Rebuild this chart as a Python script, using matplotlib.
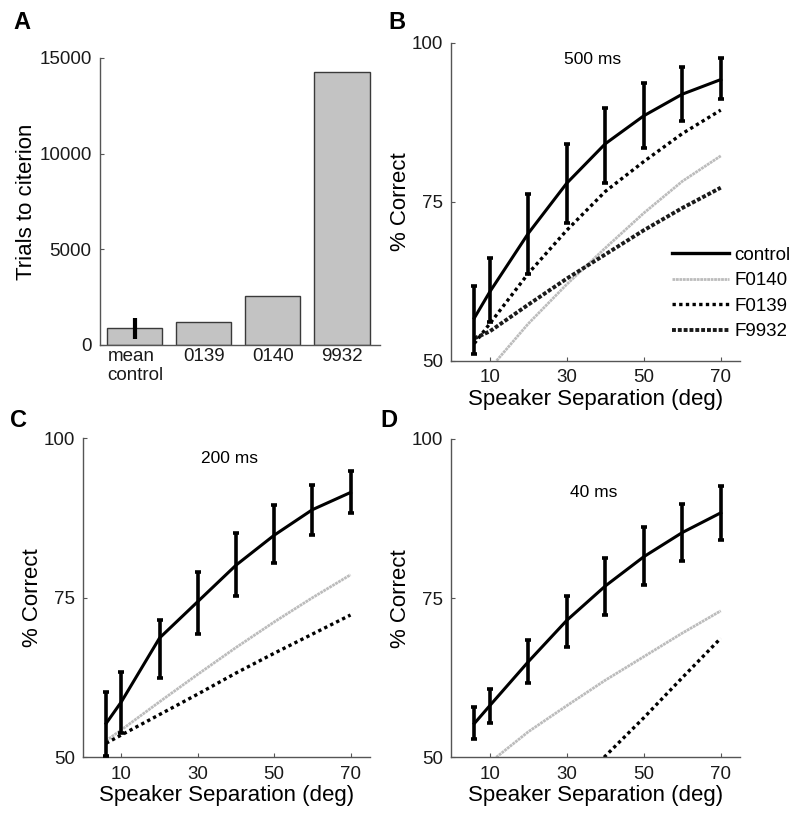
"""Four-panel figure: trials to criterion (A) and psychometric fits at 500/200/40 ms (B-D)."""
import matplotlib
matplotlib.use("Agg")
import matplotlib.pyplot as plt
import matplotlib.transforms as mtransforms
from matplotlib.lines import Line2D
import numpy as np

plt.rcParams["font.family"] = ["Liberation Sans", "DejaVu Sans"]

# ---- panel A data
bar_labels = ["mean\ncontrol", "0139", "0140", "9932"]
bar_values = [880, 1190, 2580, 14250]
ctrl_err = 550

# ---- panels B-D data (speaker separation, deg)
sep = [6, 10, 20, 30, 40, 50, 60, 70]

b_control = [56.7, 60.8, 70.0, 77.9, 84.1, 88.5, 91.9, 94.2]
b_ctrl_lo = [51.0, 56.1, 63.7, 71.6, 78.0, 83.5, 87.7, 91.1]
b_ctrl_hi = [61.8, 66.1, 76.2, 84.0, 89.7, 93.6, 96.1, 97.6]
b_f0140_x = [11.8, 20, 30, 40, 50, 60, 70]
b_f0140 = [50.0, 55.8, 62.0, 67.7, 73.2, 78.2, 82.2]
b_f0139 = [52.7, 55.8, 63.7, 70.5, 76.6, 81.3, 85.7, 89.4]
b_f9932 = [53.5, 54.6, 58.8, 62.9, 66.7, 70.5, 74.0, 77.2]

c_control = [55.3, 58.7, 68.7, 74.4, 80.1, 84.8, 88.8, 91.5]
c_ctrl_lo = [50.2, 53.8, 62.4, 69.4, 75.3, 80.4, 84.8, 88.3]
c_ctrl_hi = [60.3, 63.4, 71.5, 79.1, 85.1, 89.5, 92.7, 94.8]
c_f0140 = [52.6, 54.3, 58.7, 63.0, 67.2, 71.2, 75.0, 78.6]
c_f0139 = [52.2, 53.5, 56.7, 59.9, 63.2, 66.3, 69.3, 72.3]

d_control = [55.3, 58.1, 65.0, 71.5, 76.9, 81.5, 85.3, 88.4]
d_ctrl_lo = [52.8, 55.4, 61.6, 67.4, 72.4, 77.0, 80.9, 84.2]
d_ctrl_hi = [57.9, 60.8, 68.5, 75.4, 81.3, 86.1, 89.8, 92.6]
d_f0140_x = [11.7, 20, 30, 40, 50, 60, 70]
d_f0140 = [50.0, 54.0, 58.1, 62.1, 65.8, 69.5, 73.0]
d_f0139_x = [39.7, 50, 60, 70]
d_f0139 = [50.0, 56.2, 62.5, 68.7]

SPINE = "#555555"
TICK_FS = 13.5
LABEL_FS = 16

STYLE = {
    "control": dict(color="black", linestyle="-", linewidth=2.4),
    "F0140": dict(color="#bcbcbc", linestyle=(0, (1, 0.25)), linewidth=2.0),
    "F0139": dict(color="black", linestyle=(0, (1, 1)), linewidth=2.4),
    "F9932": dict(color="#1a1a1a", linestyle=(0, (1, 0.5)), linewidth=2.8),
}


def _style_axes(ax):
    for side in ("top", "right"):
        ax.spines[side].set_visible(False)
    for side in ("left", "bottom"):
        ax.spines[side].set_color(SPINE)
        ax.spines[side].set_linewidth(1.0)
    ax.tick_params(direction="in", length=3, color=SPINE, labelsize=TICK_FS,
                   labelcolor="#1a1a1a", pad=6)


def _psych(ax, control, lo, hi, label_text, text_xy):
    ax.set_xlim(0, 75)
    ax.set_ylim(50, 100)
    ax.set_xticks([10, 30, 50, 70])
    ax.set_yticks([50, 75, 100])
    _style_axes(ax)
    ctrl = np.array(control)
    yerr = [ctrl - np.array(lo), np.array(hi) - ctrl]
    ax.errorbar(sep, ctrl, yerr=yerr, color="black", linewidth=2.2, elinewidth=2.6,
                capsize=2.5, capthick=2.6, zorder=5, clip_on=False)
    ax.text(*text_xy, label_text, ha="center", va="center", fontsize=12.5)
    ax.set_xlabel("Speaker Separation (deg)", fontsize=LABEL_FS, labelpad=2)
    ax.set_ylabel("% Correct", fontsize=LABEL_FS, labelpad=0)


fig = plt.figure(figsize=(8.0, 8.21), dpi=100)

# ---- A
axA = fig.add_axes([0.125, 0.5798, 0.35, 0.3496])
axA.bar(range(1, 5), bar_values, width=0.8, color="#c3c3c3", edgecolor="#3a3a3a",
        linewidth=1.0)
axA.errorbar([1], [bar_values[0]], yerr=[ctrl_err], color="black", elinewidth=3,
             capsize=0, fmt="none")
axA.set_xlim(0.5, 4.55)
axA.set_ylim(0, 15000)
axA.set_yticks([0, 5000, 10000, 15000])
axA.set_xticks(range(1, 5))
axA.set_xticklabels(bar_labels)
_style_axes(axA)
axA.tick_params(axis="x", length=0, pad=2)
lab0 = axA.get_xticklabels()[0]
lab0.set_horizontalalignment("left")
lab0.set_multialignment("left")
lab0.set_transform(lab0.get_transform()
                   + mtransforms.ScaledTranslation(-0.27, 0, fig.dpi_scale_trans))
axA.set_ylabel("Trials to citerion", fontsize=LABEL_FS, labelpad=2)

# ---- B
axB = fig.add_axes([0.564, 0.5607, 0.361, 0.3873])
_psych(axB, b_control, b_ctrl_lo, b_ctrl_hi, "500 ms", (36.6, 97.4))
axB.plot(b_f0140_x, b_f0140, **STYLE["F0140"])
axB.plot(sep, b_f0139, **STYLE["F0139"])
axB.plot(sep, b_f9932, **STYLE["F9932"])
names = ["control", "F0140", "F0139", "F9932"]
handles = [Line2D([], [], **STYLE[n]) for n in names]
axB.legend(handles, names, loc="lower right", bbox_to_anchor=(1.2, 0.04), frameon=False,
           fontsize=TICK_FS, handlelength=3.0, handletextpad=0.3, labelspacing=0.45,
           borderaxespad=0)

# ---- C
axC = fig.add_axes([0.104, 0.0776, 0.358, 0.3886])
_psych(axC, c_control, c_ctrl_lo, c_ctrl_hi, "200 ms", (38.4, 96.9))
axC.plot(sep, c_f0140, **STYLE["F0140"])
axC.plot(sep, c_f0139, **STYLE["F0139"])

# ---- D
axD = fig.add_axes([0.564, 0.0776, 0.361, 0.3877])
_psych(axD, d_control, d_ctrl_lo, d_ctrl_hi, "40 ms", (37.0, 91.6))
axD.plot(d_f0140_x, d_f0140, **STYLE["F0140"])
axD.plot(d_f0139_x, d_f0139, **STYLE["F0139"])

for letter, (x, y) in {"A": (0.017, 0.972), "B": (0.485, 0.972),
                       "C": (0.013, 0.488), "D": (0.476, 0.488)}.items():
    fig.text(x, y, letter, fontsize=17, fontweight="bold", ha="left", va="center")

fig.savefig("out.png", dpi=100)
